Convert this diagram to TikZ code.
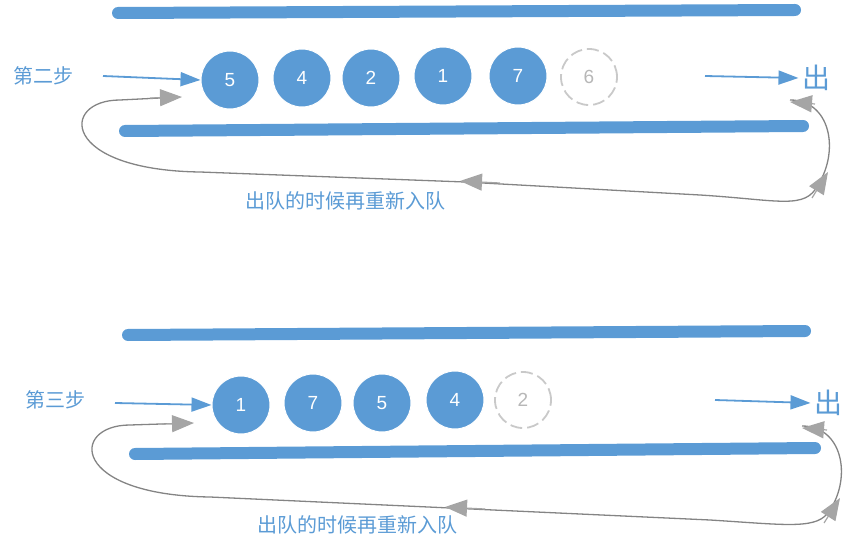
\documentclass[tikz,border=0pt]{standalone}
\usepackage{fontspec}
\setmainfont{Liberation Sans}
\newfontfamily\cjk{Noto Sans CJK SC}
\usetikzlibrary{arrows.meta}
\definecolor{bl}{HTML}{5B9BD5}
\definecolor{gr}{HTML}{A5A5A5}
\begin{document}
\begin{tikzpicture}[x=1pt,y=-1pt,
 bar/.style={line width=12pt,bl,line cap=round},
 ball/.style={circle,fill=bl,draw=white,line width=1pt,minimum size=58pt,text=white,font=\fontsize{19}{19}\selectfont},
 ghost/.style={circle,draw=gr!60,dashed,line width=1.8pt,dash pattern=on 12pt off 5pt,minimum size=56pt,text=gr!80,font=\fontsize{19}{19}\selectfont},
 barr/.style={-{Triangle[length=20pt,width=14pt]},bl,line width=1.8pt},
 loop/.style={gr!80!black,line width=1.3pt},
 tipg/.style={-{Triangle[length=22pt,width=17pt]},gr,line width=1.2pt},
 lab/.style={bl,font=\cjk\fontsize{20}{20}\selectfont},
 outlab/.style={bl,font=\cjk\fontsize{28}{28}\selectfont}]
\useasboundingbox (0,0) rectangle (854,540);
% top
\draw[bar] (118,13) -- (795,10);
\draw[bar] (125,131) -- (803,126);
\node[ball] (a1) at (230,80) {5};
\node[ball] (a2) at (302,78) {4};
\node[ball] (a3) at (371,78) {2};
\node[ball] (a4) at (443,76) {1};
\node[ball] (a5) at (518,76) {7};
\node[ghost] (a6) at (589,77) {6};
\node[lab] (s1) at (43,76) {第二步};
\coordinate (i1) at (103,76);
\draw[barr] (i1) -- (a1.west);
\coordinate (o1s) at (705,76);
\node[outlab] (o1) at (816,78) {出};
\draw[barr] (o1s) -- (o1.west);
\draw[loop] (790,100) .. controls (830,100) and (840,150) .. (818,185) .. controls (805,210) and (780,200) .. (700,195)
  -- (465,182) -- (200,172) .. controls (60,170) and (60,100) .. (120,100) -- (180,97);
\draw[tipg] (815,104) -- (790,102);
\draw[tipg] (812,198) -- (828,172);
\draw[tipg] (500,183) -- (460,181);
\draw[tipg] (150,98) -- (182,97);
\node[lab] (t1) at (345,201) {出队的时候再重新入队};
% bottom
\draw[bar] (128,335) -- (805,331);
\draw[bar] (135,454) -- (815,448);
\node[ball] (b1) at (241,405) {1};
\node[ball] (b2) at (313,403) {7};
\node[ball] (b3) at (382,403) {5};
\node[ball] (b4) at (455,400) {4};
\node[ghost] (b5) at (523,400) {2};
\node[lab] (s2) at (55,400) {第三步};
\coordinate (i2) at (115,403);
\draw[barr] (i2) -- (b1.west);
\coordinate (o2s) at (715,400);
\node[outlab] (o2) at (828,403) {出};
\draw[barr] (o2s) -- (o2.west);
\draw[loop] (802,426) .. controls (842,426) and (852,476) .. (830,510) .. controls (818,530) and (790,525) .. (710,520)
  -- (450,508) -- (210,497) .. controls (70,495) and (70,425) .. (130,425) -- (192,423);
\draw[tipg] (827,430) -- (802,428);
\draw[tipg] (824,523) -- (840,498);
\draw[tipg] (485,509) -- (445,507);
\draw[tipg] (162,424) -- (194,423);
\node[lab] (t2) at (357,525) {出队的时候再重新入队};
\end{tikzpicture}
\end{document}
